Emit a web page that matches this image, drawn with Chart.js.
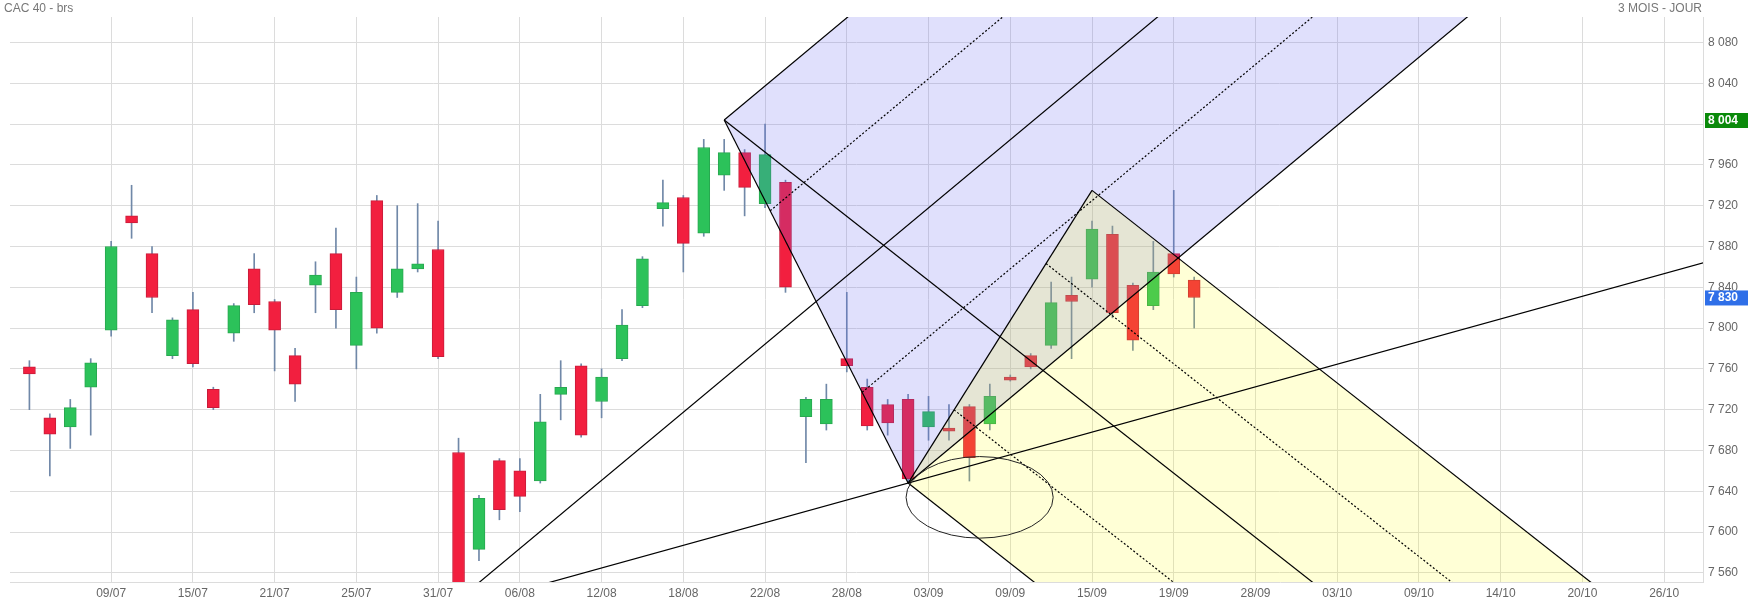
<!DOCTYPE html>
<html><head><meta charset="utf-8">
<script src="https://cdn.jsdelivr.net/npm/chart.js@4/dist/chart.umd.min.js"></script>
<style>html,body{margin:0;padding:0;background:#fff}#w{width:1748px;height:603px}</style>
</head><body><div id="w"><canvas id="c"></canvas></div>
<script>
const dateLabels = {4:'09/07',8:'15/07',12:'21/07',16:'25/07',20:'31/07',24:'06/08',28:'12/08',32:'18/08',36:'22/08',40:'28/08',44:'03/09',48:'09/09',52:'15/09',56:'19/09',60:'28/09',64:'03/10',68:'09/10',72:'14/10',76:'20/10',80:'26/10'};
const yTicks = [7560,7600,7640,7680,7720,7760,7800,7840,7880,7920,7960,8000,8040,8080];
const opens  = [7762,7712,7703,7742,7798,7910,7873,7773,7818,7740,7795,7858,7826,7773,7842,7873,7783,7925,7835,7858,7877,7678,7583,7670,7660,7650,7735,7763,7728,7770,7822,7917,7928,7893,7950,7972,7922,7943,7713,7706,7770,7742,7725,7730,7703,7702,7723,7706,7752,7773,7783,7832,7848,7892,7842,7822,7873,7847];
const closes = [7755,7696,7722,7766,7880,7903,7830,7808,7765,7722,7822,7823,7798,7745,7852,7818,7835,7800,7858,7863,7772,7540,7633,7622,7635,7708,7742,7695,7752,7803,7868,7923,7883,7977,7972,7938,7970,7840,7730,7730,7763,7704,7707,7652,7718,7700,7673,7733,7750,7762,7825,7826,7897,7815,7788,7855,7853,7830];
const highs  = [7768,7716,7730,7770,7885,7940,7880,7810,7835,7742,7824,7873,7828,7780,7865,7898,7850,7930,7920,7922,7905,7692,7636,7672,7672,7735,7768,7765,7760,7818,7870,7945,7930,7985,7985,7975,8000,7945,7732,7745,7835,7750,7730,7735,7733,7725,7725,7745,7754,7775,7845,7850,7905,7900,7844,7885,7935,7850];
const lows   = [7720,7655,7682,7695,7792,7888,7815,7770,7762,7720,7787,7815,7758,7728,7815,7800,7760,7795,7830,7855,7770,7540,7572,7612,7620,7648,7710,7693,7712,7768,7820,7900,7855,7890,7935,7910,7918,7835,7668,7700,7757,7700,7695,7648,7690,7690,7650,7700,7748,7760,7780,7770,7840,7810,7778,7818,7850,7800];
const pointA = [34, 8004];
const pointB = [43, 7648];
const pointC = [52, 7935];
const upSlope = 16.7;      // purple fork direction (price per day)
const baseSlope = 5.55;    // shallow line through B
const ellipse = [46.5, 7634, 3.6, 40];
const lastPrice = 7830, markPrice = 8004;

const idx = opens.map((_, i) => i);
const mid = (p, q, t) => [p[0] + (q[0]-p[0])*t, p[1] + (q[1]-p[1])*t];
const ext = (p, s, dx) => [p[0]+dx, p[1]+s*dx];
const pts = arr => arr.map(p => ({x:p[0], y:p[1]}));
const mBC = mid(pointB, pointC, 0.5);
const dnSlope = (mBC[1]-pointA[1])/(mBC[0]-pointA[0]);
const mAB = mid(pointA, pointB, 0.5);

function seg(p, q, dash) {
  return {type:'line', data:pts([p,q]), borderColor:'#000', borderWidth:1.2, borderDash:dash||[], pointRadius:0, fill:false, order:0};
}
const L = 80;
const datasets = [
  {type:'line', data:pts([pointA, pointB, ext(pointB, upSlope, L), ext(pointA, upSlope, L)]), fill:'shape', backgroundColor:'rgba(100,100,240,0.2)', borderWidth:0, pointRadius:0, order:1},
  {type:'line', data:pts([pointB, pointC, ext(pointC, dnSlope, L), ext(pointB, dnSlope, L)]), fill:'shape', backgroundColor:'rgba(255,255,0,0.16)', borderWidth:0, pointRadius:0, order:0.5},
  seg(pointA, pointB), seg(pointB, pointC),
  seg(pointA, ext(pointA, upSlope, L)), seg(pointB, ext(pointB, upSlope, L)),
  seg(ext(mAB, upSlope, -L), ext(mAB, upSlope, L)),
  seg(mid(pointA,pointB,0.25), ext(mid(pointA,pointB,0.25), upSlope, L), [2,2]),
  seg(mid(pointA,pointB,0.75), ext(mid(pointA,pointB,0.75), upSlope, L), [2,2]),
  seg(pointA, ext(pointA, dnSlope, L)), seg(pointB, ext(pointB, dnSlope, L)), seg(pointC, ext(pointC, dnSlope, L)),
  seg(mid(pointB,pointC,0.25), ext(mid(pointB,pointC,0.25), dnSlope, L), [2,2]),
  seg(mid(pointB,pointC,0.75), ext(mid(pointB,pointC,0.75), dnSlope, L), [2,2]),
  seg(ext(pointB, baseSlope, -L), ext(pointB, baseSlope, L)),
  {type:'bar', data:idx.map(i => ({x:i, y:[lows[i], highs[i]]})), backgroundColor:'#7088a8', barThickness:1, order:3, grouped:false},
  {type:'bar', data:idx.map(i => ({x:i, y:[opens[i], Math.abs(closes[i]-opens[i])<3 ? opens[i]+ (closes[i]>opens[i]?3:-3) : closes[i]]})),
   backgroundColor:idx.map(i => closes[i]>=opens[i] ? '#2cc25a' : '#f21f3f'),
   borderColor:idx.map(i => closes[i]>=opens[i] ? '#28a850' : '#c81c3a'), borderWidth:1, borderSkipped:false,
   barThickness:12, order:2, grouped:false}
];

const fmt = v => String(v).replace(/\B(?=(\d{3})+(?!\d))/g, ' ');
const extras = {
  id:'extras',
  afterDatasetsDraw(ch) {
    const {ctx, chartArea:a, scales:{x, y}} = ch;
    ctx.save();
    ctx.beginPath(); ctx.rect(a.left, a.top, a.right-a.left, a.bottom-a.top); ctx.clip();
    ctx.beginPath();
    const cx = x.getPixelForValue(ellipse[0]), cy = y.getPixelForValue(ellipse[1]);
    const rx = x.getPixelForValue(ellipse[0]+ellipse[2]) - cx, ry = cy - y.getPixelForValue(ellipse[1]+ellipse[3]);
    ctx.ellipse(cx, cy, rx, ry, 0, 0, Math.PI*2);
    ctx.strokeStyle = '#222'; ctx.lineWidth = 1; ctx.stroke();
    ctx.restore();
    ctx.save();
    ctx.font = '12px "Liberation Sans", Arial, sans-serif';
    ctx.fillStyle = '#777'; ctx.textBaseline = 'middle';
    ctx.textAlign = 'left'; ctx.fillText('CAC 40 - brs', 4, 9);
    ctx.textAlign = 'right'; ctx.fillText('3 MOIS - JOUR', a.right - 1, 9);
    ctx.font = 'bold 12px "Liberation Sans", Arial, sans-serif';
    [[markPrice, '#0a8a0a'], [lastPrice, '#2f6fe8']].forEach(([v, col]) => {
      const py = y.getPixelForValue(v);
      ctx.fillStyle = col; ctx.fillRect(a.right + 2, py - 7, 46, 15);
      ctx.fillStyle = '#fff'; ctx.textAlign = 'left'; ctx.fillText(fmt(v), a.right + 5, py + 0.5);
    });
    ctx.restore();
  }
};

new Chart(document.getElementById('c'), {
  data: {datasets},
  options: {
    responsive:true, maintainAspectRatio:false, animation:false,
    layout:{padding:{top:17, left:10, right:0, bottom:0}},
    plugins:{legend:{display:false}, tooltip:{enabled:false}},
    scales:{
      x:{type:'linear', min:-0.95, max:81.9, offset:false,
         afterBuildTicks: s => { s.ticks = Object.keys(dateLabels).map(k => ({value:+k})); },
         ticks:{callback: v => dateLabels[v] || '', color:'#666', font:{size:12, family:'"Liberation Sans", Arial'}, maxRotation:0, autoSkip:false, padding:4},
         grid:{color: c => (c.tick && dateLabels[c.tick.value]) ? '#dcdcdc' : 'rgba(0,0,0,0)', drawTicks:false, offset:false}, border:{color:'#dcdcdc'},
         afterFit: s => { s.height = 21; }},
      y:{position:'right', min:7551, max:8105,
         afterBuildTicks: s => { s.ticks = yTicks.map(v => ({value:v})); },
         ticks:{callback: v => fmt(v), color:'#666', font:{size:12, family:'"Liberation Sans", Arial'}, padding:5},
         grid:{color:'#dcdcdc', drawTicks:false}, border:{color:'#dcdcdc'},
         afterFit: s => { s.width = 45; }}
    }
  },
  plugins:[extras]
});
</script></body></html>
